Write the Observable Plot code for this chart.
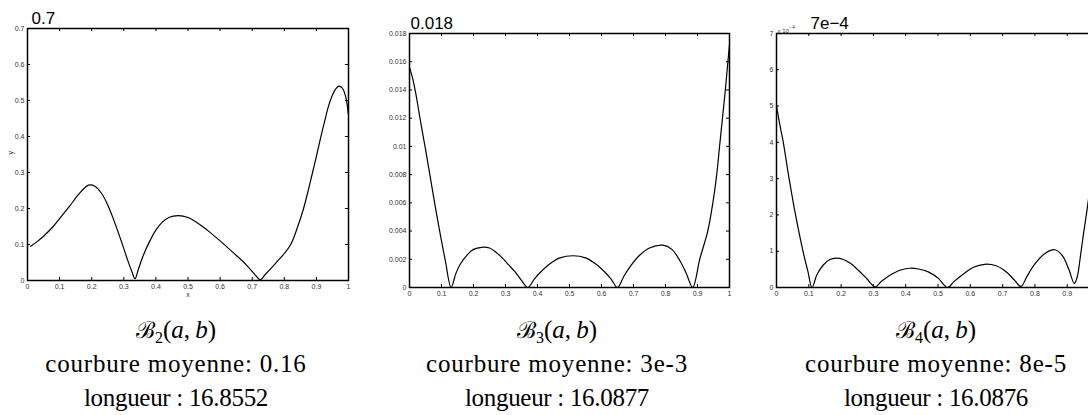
<!DOCTYPE html>
<html><head><meta charset="utf-8">
<script src="https://cdn.jsdelivr.net/npm/d3@7"></script>
<script src="https://cdn.jsdelivr.net/npm/@observablehq/plot@0.6"></script>
<style>
body{margin:0;background:#fff;}
#wrap{position:relative;width:1088px;height:415px;overflow:hidden;background:#fff;}
.panel{position:absolute;top:0;}
.panel svg{max-width:none !important;}
.cap{position:absolute;width:400px;text-align:center;font-family:"Liberation Serif","Times New Roman",serif;font-size:25px;line-height:30px;color:#000;white-space:nowrap;}
.cap .B{font-family:"DejaVu Serif",serif;font-size:23px;}
.cap sub{font-size:16px;vertical-align:-5px;line-height:0;}
.cap i{font-style:italic;}
</style></head><body><div id="wrap"></div>
<script>
// ---- tick values ----
const xTicks = [0,0.1,0.2,0.3,0.4,0.5,0.6,0.7,0.8,0.9,1];
const xTicks3 = [0,0.1,0.2,0.3,0.4,0.5,0.6,0.7,0.8,0.9];
const yTicks1 = [0,0.1,0.2,0.3,0.4,0.5,0.6,0.7];
const yTicks2 = [0,0.002,0.004,0.006,0.008,0.01,0.012,0.014,0.016,0.018];
const yTicks3 = [0,1,2,3,4,5,6,7]; // x 10^-4

// ---- B2(a,b) ----
const x1 = [0.01,0.03,0.05,0.08,0.10,0.13,0.16,0.19,0.21,0.23,0.25,0.27,0.29,0.31,0.325,0.335,0.345,0.36,0.38,0.40,0.42,0.44,0.47,0.50,0.53,0.56,0.60,0.64,0.68,0.71,0.725,0.74,0.76,0.78,0.80,0.82,0.84,0.86,0.875,0.888,0.90,0.912,0.925,0.938,0.95,0.96,0.97,0.98,0.99,1.0];
const y1 = [0.095,0.108,0.123,0.150,0.172,0.205,0.240,0.265,0.262,0.243,0.210,0.165,0.115,0.062,0.025,0.005,0.030,0.068,0.108,0.140,0.162,0.175,0.180,0.175,0.160,0.140,0.110,0.078,0.045,0.015,0.002,0.016,0.035,0.055,0.075,0.100,0.145,0.200,0.252,0.300,0.345,0.392,0.440,0.485,0.515,0.532,0.540,0.535,0.515,0.460];

// ---- B3(a,b) ----
const x2 = [0,0.01,0.02,0.035,0.05,0.065,0.08,0.095,0.112,0.13,0.145,0.16,0.18,0.20,0.226,0.25,0.27,0.29,0.31,0.33,0.35,0.37,0.39,0.41,0.44,0.47,0.512,0.55,0.58,0.61,0.63,0.65,0.67,0.69,0.72,0.75,0.792,0.82,0.845,0.865,0.885,0.907,0.932,0.948,0.96,0.969,0.978,0.987,0.995,1.0];
const y2 = [0.0156,0.0148,0.0137,0.0117,0.0098,0.0078,0.0058,0.0039,0.0019,0.0,0.0010,0.0017,0.0023,0.0027,0.00285,0.0028,0.0025,0.0021,0.0016,0.0011,0.0005,0.0,0.0006,0.0011,0.0017,0.0021,0.00225,0.0021,0.0017,0.0011,0.0006,0.0,0.0008,0.0015,0.0023,0.0028,0.0030,0.0027,0.0019,0.0010,0.0,0.0020,0.0040,0.0060,0.0080,0.0100,0.0120,0.0140,0.0160,0.0172];

// ---- B4(a,b) (values in units of 1e-4) ----
const x3 = [0,0.01,0.021,0.039,0.059,0.082,0.097,0.11,0.125,0.145,0.165,0.184,0.205,0.23,0.255,0.28,0.305,0.325,0.35,0.38,0.412,0.44,0.47,0.50,0.53,0.55,0.58,0.61,0.644,0.68,0.71,0.735,0.757,0.775,0.80,0.83,0.861,0.885,0.905,0.922,0.931,0.94,0.95,0.96,0.968,0.985,1.0];
const y3 = [5.0,4.5,4.0,3.0,2.0,1.0,0.45,0.0,0.35,0.62,0.77,0.81,0.78,0.66,0.46,0.24,0.02,0.17,0.33,0.47,0.53,0.51,0.43,0.26,0.0,0.17,0.38,0.56,0.64,0.60,0.44,0.22,0.03,0.30,0.65,0.93,1.04,0.88,0.50,0.11,0.29,0.80,1.45,2.05,2.57,3.7,5.0];

// ---- texts ----
const titles = ["0.7","0.018","7e\u22124"];
const subs = ["2","3","4"];
const courbure = ["0.16","3e-3","8e-5"];
const longueur = ["16.8552","16.0877","16.0876"];

const fmt = d => String(+(+d).toFixed(3));

function panel({x, y, yDomain, yTicks, xLabels = xTicks, width, height, ml, mr, mt, mb, title, titleDx, extra = []}) {
  const fw = width - ml - mr, fh = height - mt - mb;
  const data = x.map((v, i) => ({px: v, py: y[i]}));
  return Plot.plot({
    width, height, marginLeft: ml, marginRight: mr, marginTop: mt, marginBottom: mb,
    x: {domain: [0, 1], label: null}, y: {domain: yDomain, label: null},
    style: {fontFamily: "'Liberation Sans', Arial, sans-serif", fontSize: "7px", color: "#333", background: "white", overflow: "visible"},
    marks: [
      Plot.axisX(xLabels, {tickSize: 0, tickPadding: 4, tickFormat: fmt, label: null}),
      Plot.axisY(yTicks, {tickSize: 0, tickPadding: 3, tickFormat: fmt, label: null}),
      Plot.tickX(xTicks, {x: d => d, insetTop: fh - 3, stroke: "black"}),
      Plot.tickX(xTicks, {x: d => d, insetBottom: fh - 3, stroke: "black"}),
      Plot.tickY(yTicks, {y: d => d, insetRight: fw - 3, stroke: "black"}),
      Plot.tickY(yTicks, {y: d => d, insetLeft: fw - 3, stroke: "black"}),
      Plot.line(data, {x: "px", y: "py", curve: "catmull-rom", stroke: "black", strokeWidth: 1.2, clip: true}),
      Plot.frame({stroke: "black", strokeWidth: 1.5}),
      Plot.text([title], {text: d => d, frameAnchor: "top-left", textAnchor: "start", lineAnchor: "bottom", dx: titleDx, dy: -5, fontSize: 17, fill: "black"}),
      ...extra
    ]
  });
}

const wrap = document.getElementById("wrap");
function place(svg, left, width) {
  const d = document.createElement("div");
  d.className = "panel"; d.style.left = left + "px"; d.style.width = width + "px";
  d.appendChild(svg); wrap.appendChild(d);
}

place(panel({x: x1, y: y1, yDomain: [0, 0.7], yTicks: yTicks1, width: 360, height: 300, ml: 27, mr: 12, mt: 28, mb: 20, title: titles[0], titleDx: 4,
  extra: [
    Plot.text(["y"], {text: d => d, frameAnchor: "left", rotate: -90, dx: -17, fontSize: 7, fill: "#333"}),
    Plot.text(["x"], {text: d => d, frameAnchor: "bottom", dy: 16, fontSize: 7, fill: "#333"})
  ]}), 0, 360);

place(panel({x: x2, y: y2, yDomain: [0, 0.018], yTicks: yTicks2, width: 370, height: 305, ml: 39, mr: 11, mt: 33, mb: 18, title: titles[1], titleDx: 1}), 370, 370);

place(panel({x: x3, y: y3, yDomain: [0, 7], yTicks: yTicks3, xLabels: xTicks3, width: 370, height: 305, ml: 36, mr: 11, mt: 33, mb: 18, title: titles[2], titleDx: 34,
  extra: [
    Plot.text(["x 10"], {text: d => d, frameAnchor: "top-left", textAnchor: "start", dx: 1, dy: -5, fontSize: 6, fill: "#333"}),
    Plot.text(["\u22124"], {text: d => d, frameAnchor: "top-left", textAnchor: "start", dx: 13, dy: -8, fontSize: 4.5, fill: "#333"})
  ]}), 740, 370);

// ---- captions (HTML text below the charts) ----
const centers = [176, 557, 936];
function capLine(cx, baseline, html, extraStyle = "") {
  const d = document.createElement("div");
  d.className = "cap";
  d.style.left = (cx - 200) + "px";
  d.style.top = (baseline - 23) + "px";
  if (extraStyle) d.style.cssText += extraStyle;
  d.innerHTML = html;
  wrap.appendChild(d);
}
centers.forEach((cx, i) => {
  capLine(cx, 338, `<span class="B">\u212C</span><sub>${subs[i]}</sub>(<i>a</i>,&#8201;<i>b</i>)`);
  capLine(cx, 372, `courbure moyenne: ${courbure[i]}`, "letter-spacing:0.8px;");
  capLine(cx, 406, `longueur : ${longueur[i]}`, "letter-spacing:-0.3px;");
});
</script></body></html>
